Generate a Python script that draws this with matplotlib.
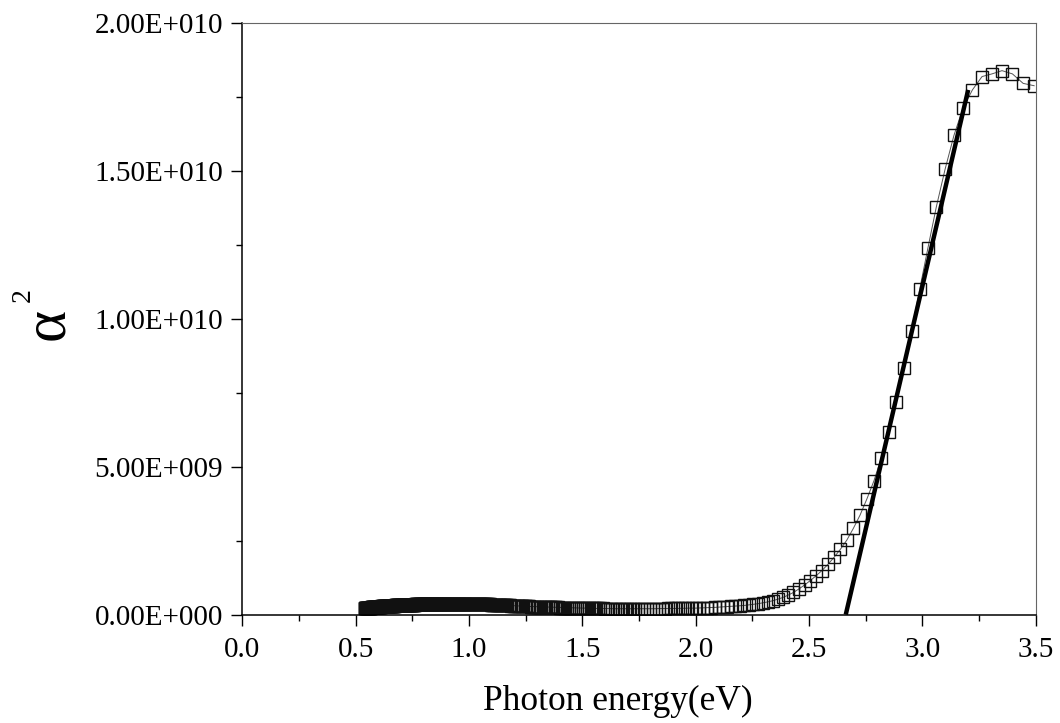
import numpy as np
import matplotlib
matplotlib.use("Agg")
import matplotlib.pyplot as plt
from matplotlib.ticker import MultipleLocator

plt.rcParams['font.family'] = ['Liberation Serif', 'DejaVu Serif']

# ---------------- data ----------------
# measurement grid (wavelength, nm)
wavelength_nm = [
    355, 360, 365, 370, 375, 380, 385, 390, 395, 400, 405, 410, 415, 420, 425, 430, 435, 440, 445, 450,
    455, 460, 465, 470, 475, 480, 485, 490, 495, 500, 505, 510, 515, 520, 525, 530, 535, 540, 545, 550,
    555, 560, 565, 570, 575, 580, 585, 590, 595, 600, 605, 610, 615, 620, 625, 630, 635, 640, 645, 650,
    655, 660, 665, 670, 675, 680, 685, 690, 695, 700, 705, 710, 715, 720, 725, 730, 735, 740, 745, 750,
    755, 760, 765, 770, 775, 780, 785, 790, 795, 800, 805, 810, 815, 820, 825, 830, 835, 840, 845, 850,
    855, 860, 865, 870, 875, 880, 885, 890, 895, 900, 905, 910, 915, 920, 925, 930, 935, 940, 945, 950,
    955, 960, 965, 970, 975, 980, 985, 990, 995, 1000, 1005, 1010, 1015, 1020, 1025, 1030, 1035, 1040, 1045, 1050,
    1055, 1060, 1065, 1070, 1075, 1080, 1085, 1090, 1095, 1100, 1105, 1110, 1115, 1120, 1125, 1130, 1135, 1140, 1145, 1150,
    1155, 1160, 1165, 1170, 1175, 1180, 1185, 1190, 1195, 1200, 1205, 1210, 1215, 1220, 1225, 1230, 1235, 1240, 1245, 1250,
    1255, 1260, 1265, 1270, 1275, 1280, 1285, 1290, 1295, 1300, 1305, 1310, 1315, 1320, 1325, 1330, 1335, 1340, 1345, 1350,
    1355, 1360, 1365, 1370, 1375, 1380, 1385, 1390, 1395, 1400, 1405, 1410, 1415, 1420, 1425, 1430, 1435, 1440, 1445, 1450,
    1455, 1460, 1465, 1470, 1475, 1480, 1485, 1490, 1495, 1500, 1505, 1510, 1515, 1520, 1525, 1530, 1535, 1540, 1545, 1550,
    1555, 1560, 1565, 1570, 1575, 1580, 1585, 1590, 1595, 1600, 1605, 1610, 1615, 1620, 1625, 1630, 1635, 1640, 1645, 1650,
    1655, 1660, 1665, 1670, 1675, 1680, 1685, 1690, 1695, 1700, 1705, 1710, 1715, 1720, 1725, 1730, 1735, 1740, 1745, 1750,
    1755, 1760, 1765, 1770, 1775, 1780, 1785, 1790, 1795, 1800, 1805, 1810, 1815, 1820, 1825, 1830, 1835, 1840, 1845, 1850,
    1855, 1860, 1865, 1870, 1875, 1880, 1885, 1890, 1895, 1900, 1905, 1910, 1915, 1920, 1925, 1930, 1935, 1940, 1945, 1950,
    1955, 1960, 1965, 1970, 1975, 1980, 1985, 1990, 1995, 2000, 2005, 2010, 2015, 2020, 2025, 2030, 2035, 2040, 2045, 2050,
    2055, 2060, 2065, 2070, 2075, 2080, 2085, 2090, 2095, 2100, 2105, 2110, 2115, 2120, 2125, 2130, 2135, 2140, 2145, 2150,
    2155, 2160, 2165, 2170, 2175, 2180, 2185, 2190, 2195, 2200, 2205, 2210, 2215, 2220, 2225, 2230, 2235, 2240, 2245, 2250,
    2255, 2260, 2265, 2270, 2275, 2280, 2285, 2290, 2295, 2300,
]

# alpha^2 values, in units of 1e9 (same order as wavelength_nm)
alpha_sq_e9 = [
    17.89, 17.97, 18.29, 18.40, 18.29, 18.20, 17.75, 17.14, 16.21, 15.06, 13.80, 12.40, 11.00, 9.60, 8.33, 7.20, 6.19, 5.29, 4.53, 3.92,
    3.37, 2.92, 2.52, 2.21, 1.94, 1.70, 1.49, 1.31, 1.15, 1.00, 0.87, 0.75, 0.66, 0.58, 0.52, 0.47, 0.43, 0.40, 0.37, 0.35,
    0.33, 0.31, 0.30, 0.29, 0.28, 0.27, 0.26, 0.25, 0.245, 0.24, 0.235, 0.23, 0.225, 0.22, 0.22, 0.22, 0.215, 0.215, 0.21, 0.21,
    0.21, 0.21, 0.205, 0.205, 0.205, 0.20, 0.20, 0.20, 0.20, 0.20, 0.20, 0.20, 0.20, 0.20, 0.20, 0.20, 0.20, 0.20, 0.20, 0.20,
    0.20, 0.20, 0.205, 0.205, 0.205, 0.21, 0.21, 0.21, 0.21, 0.215, 0.215, 0.215, 0.22, 0.22, 0.22, 0.222, 0.224, 0.226, 0.228, 0.228,
    0.23, 0.232, 0.234, 0.236, 0.238, 0.24, 0.24, 0.242, 0.244, 0.246, 0.248, 0.25, 0.252, 0.254, 0.256, 0.258, 0.26, 0.26, 0.26, 0.262,
    0.264, 0.266, 0.268, 0.27, 0.272, 0.275, 0.277, 0.279, 0.281, 0.283, 0.286, 0.289, 0.292, 0.295, 0.298, 0.30, 0.303, 0.306, 0.308, 0.31,
    0.312, 0.314, 0.316, 0.318, 0.32, 0.322, 0.324, 0.326, 0.328, 0.33, 0.332, 0.334, 0.336, 0.338, 0.34, 0.342, 0.344, 0.345, 0.346, 0.347,
    0.348, 0.349, 0.35, 0.351, 0.352, 0.353, 0.354, 0.355, 0.356, 0.357, 0.358, 0.359, 0.36, 0.36, 0.361, 0.361, 0.362, 0.362, 0.363, 0.363,
    0.363, 0.364, 0.364, 0.364, 0.365, 0.365, 0.365, 0.365, 0.365, 0.365, 0.365, 0.365, 0.365, 0.365, 0.365, 0.365, 0.365, 0.365, 0.365, 0.365,
    0.365, 0.365, 0.365, 0.365, 0.365, 0.365, 0.364, 0.364, 0.364, 0.364, 0.363, 0.363, 0.363, 0.363, 0.362, 0.362, 0.362, 0.361, 0.361, 0.361,
    0.36, 0.36, 0.36, 0.36, 0.359, 0.359, 0.359, 0.358, 0.358, 0.358, 0.357, 0.357, 0.357, 0.356, 0.356, 0.355, 0.355, 0.355, 0.354, 0.354,
    0.353, 0.352, 0.352, 0.351, 0.35, 0.35, 0.349, 0.348, 0.347, 0.347, 0.346, 0.345, 0.344, 0.344, 0.343, 0.342, 0.341, 0.341, 0.340, 0.339,
    0.338, 0.337, 0.336, 0.336, 0.335, 0.334, 0.333, 0.332, 0.332, 0.331, 0.33, 0.329, 0.328, 0.328, 0.327, 0.326, 0.325, 0.324, 0.324, 0.323,
    0.322, 0.321, 0.321, 0.32, 0.319, 0.318, 0.317, 0.317, 0.316, 0.315, 0.314, 0.313, 0.313, 0.312, 0.311, 0.31, 0.309, 0.309, 0.308, 0.307,
    0.306, 0.305, 0.304, 0.304, 0.303, 0.302, 0.301, 0.30, 0.299, 0.298, 0.297, 0.296, 0.295, 0.294, 0.294, 0.293, 0.292, 0.291, 0.29, 0.289,
    0.288, 0.287, 0.286, 0.285, 0.284, 0.283, 0.282, 0.281, 0.28, 0.279, 0.278, 0.277, 0.276, 0.275, 0.274, 0.273, 0.272, 0.271, 0.27, 0.269,
    0.268, 0.267, 0.266, 0.265, 0.264, 0.263, 0.262, 0.261, 0.26, 0.259, 0.258, 0.257, 0.256, 0.255, 0.254, 0.253, 0.252, 0.251, 0.25, 0.249,
    0.248, 0.247, 0.245, 0.244, 0.243, 0.241, 0.24, 0.239, 0.237, 0.236, 0.235, 0.233, 0.232, 0.231, 0.229, 0.228, 0.227, 0.225, 0.224, 0.223,
    0.222, 0.22, 0.219, 0.218, 0.216, 0.215, 0.214, 0.212, 0.211, 0.21,
]

# linear fit (Tauc extrapolation) end points
fit_energy_ev = [2.662, 3.202]
fit_alpha_sq_e9 = [0.0, 17.75]

x_ticks = [0.0, 0.5, 1.0, 1.5, 2.0, 2.5, 3.0, 3.5]
x_tick_labels = ["0.0", "0.5", "1.0", "1.5", "2.0", "2.5", "3.0", "3.5"]
y_ticks_e9 = [0, 5, 10, 15, 20]
y_tick_labels = ["0.00E+000", "5.00E+009", "1.00E+010", "1.50E+010", "2.00E+010"]

# ---------------- plot ----------------
energy_ev = 1240.0 / np.asarray(wavelength_nm, dtype=float)
alpha_sq = np.asarray(alpha_sq_e9) * 1e9

fig = plt.figure(figsize=(10.6, 7.23), dpi=100)
ax = fig.add_axes([0.2286, 0.1499, 0.7485, 0.8178])

ax.plot(energy_ev, alpha_sq, color='#555555', lw=0.7, marker='s', ms=8.2,
        mfc='none', mec='#111111', mew=1.0, zorder=2)
ax.plot(fit_energy_ev, np.asarray(fit_alpha_sq_e9) * 1e9, color='black',
        lw=3.2, solid_capstyle='butt', zorder=3)

ax.set_xlim(0.0, 3.5)
ax.set_ylim(0.0, 2.0e10)
ax.set_xticks(x_ticks)
ax.set_xticklabels(x_tick_labels)
ax.set_yticks(np.asarray(y_ticks_e9) * 1e9)
ax.set_yticklabels(y_tick_labels)
ax.xaxis.set_minor_locator(MultipleLocator(0.25))
ax.yaxis.set_minor_locator(MultipleLocator(2.5e9))

ax.tick_params(which='major', direction='out', length=8, width=1.0,
               labelsize=21, top=False, right=False)
ax.tick_params(which='minor', direction='out', length=4, width=1.0,
               top=False, right=False)
ax.tick_params(axis='x', which='major', pad=8)
ax.tick_params(axis='y', which='major', pad=6)

for s in ['left', 'bottom']:
    ax.spines[s].set_color('black')
    ax.spines[s].set_linewidth(1.1)
for s in ['top', 'right']:
    ax.spines[s].set_color('#666666')
    ax.spines[s].set_linewidth(0.8)

ax.set_xlabel('Photon energy(eV)', fontsize=25.5)
ax.xaxis.label.set_va('baseline')
ax.xaxis.set_label_coords(0.4735, -0.1613)

ax.set_ylabel('\u03b1', fontsize=44, rotation=90)
ax.yaxis.label.set_va('center')
ax.yaxis.label.set_ha('center')
ax.yaxis.set_label_coords(-0.2440, 0.4915)
ax.text(-0.2758, 0.5405, '2', transform=ax.transAxes, rotation=90,
        fontsize=20, ha='center', va='center')

fig.savefig('out.png', dpi=100)
